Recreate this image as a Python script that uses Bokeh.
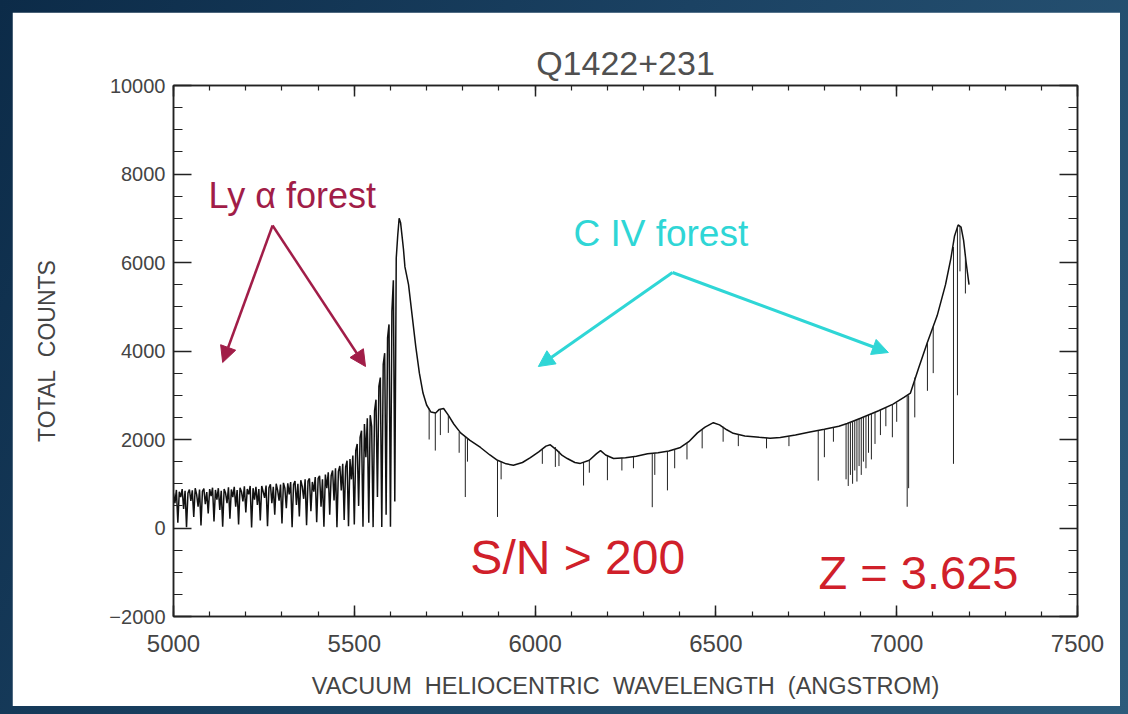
from bokeh.plotting import figure
from bokeh.layouts import column
from bokeh.models import (Range1d, LinearAxis, SingleIntervalTicker, Arrow,
                          NormalHead, Label, CustomJSTickFormatter)
from bokeh.embed import file_html
from bokeh.resources import INLINE

# Lyman-alpha forest blueward of the Ly-alpha emission peak, 4 A sampling
lya_wave = list(range(5000, 5640, 4))
lya_counts = [
    780, 560, 860, 120, 820, 700, 880, 430, 840, 20, 790, 870, 610, 850, 250, 900, 760, 480, 870, 60,
    830, 890, 540, 810, 330, 880, 720, 910, 150, 860, 640, 900, 410, 840, 30, 880, 790, 560, 920, 210,
    870, 700, 930, 480, 860, 80, 910, 820, 600, 940, 350, 880, 760, 950, 10, 900, 640, 930, 520, 880,
    170, 950, 820, 680, 960, 40, 910, 990, 560, 930, 300, 1000, 850, 620, 980, 100, 1020, 900, 450, 1010,
    760, 1040, 20, 980, 1060, 520, 1000, 260, 1080, 940, 660, 1100, 60, 1060, 1120, 380, 1040, 820, 1150, 130,
    1120, 1180, 480, 1100, 30, 1210, 900, 1260, 300, 1180, 1300, 620, 1350, 20, 1280, 1400, 850, 1450, 180,
    1380, 1520, 40, 1560, 1100, 1640,
    80, 1750, 1900, 500, 2050, 2200, 30, 2350, 1600, 2480, 120, 2550, 2300, 20, 2650,
    2900, 700, 3200, 3400, 20, 3700, 3950, 300, 4300, 4600, 30, 4900, 5600, 600, 6100, 6600, 7000, 6900,
    6600, 6300,
]

# Continuum redward of Ly-alpha, up to the C IV emission line
cont_wave = [5640, 5650, 5660, 5670, 5680, 5690, 5700, 5712, 5725, 5735, 5747, 5760, 5775, 5794,
             5820, 5849, 5875, 5896, 5920, 5940, 5965, 5987, 6010, 6030, 6042, 6060, 6075, 6089,
             6110, 6125, 6150, 6170, 6181, 6195, 6217, 6250, 6280, 6311, 6340, 6370, 6402,
             6425, 6449, 6470, 6493, 6510, 6530, 6548, 6580, 6620, 6650, 6678, 6720, 6760, 6800,
             6840, 6863, 6900, 6950, 6990, 7020, 7038, 7060, 7085, 7112, 7135, 7150, 7160, 7170,
             7178, 7185, 7192, 7200]
cont_counts = [5900, 5500, 4800, 4100, 3500, 3050, 2780, 2620, 2600, 2680, 2700, 2550, 2350, 2150,
               1980, 1820, 1650, 1530, 1450, 1420, 1480, 1590, 1720, 1850, 1880, 1760, 1640, 1570,
               1480, 1460, 1530, 1680, 1750, 1650, 1570, 1590, 1620, 1680, 1700, 1740, 1820,
               1950, 2150, 2280, 2380, 2330, 2220, 2140, 2080, 2050, 2030, 2045, 2100, 2170, 2230,
               2300, 2360, 2480, 2650, 2800, 2950, 3050, 3600, 4200, 4800, 5500, 6100, 6600, 6850,
               6800, 6500, 6000, 5500]

# Narrow metal absorption lines: wavelength, continuum level, line core
line_wave = [5707, 5724, 5738, 5760, 5790, 5807, 5813, 5896, 5906, 6020, 6056, 6066, 6134, 6150,
             6200, 6240, 6272, 6324, 6331, 6366, 6386, 6420, 6462, 6520, 6562, 6640, 6702, 6783,
             6800, 6825, 6860, 6866, 6872, 6878, 6884, 6890, 6896, 6902, 6908, 6915, 6922, 6930,
             6940, 6955, 6970, 6988, 7000, 7029, 7033, 7050, 7085, 7101, 7157, 7168, 7175, 7190]
line_top = [2700, 2600, 2690, 2550, 2170, 2060, 2030, 1530, 1500, 1790, 1830, 1740, 1470, 1530,
            1630, 1585, 1615, 1685, 1690, 1735, 1780, 1920, 2230, 2290, 2120, 2040, 2070, 2200,
            2230, 2270, 2350, 2370, 2390, 2410, 2430, 2450, 2470, 2490, 2510, 2530, 2560, 2590,
            2620, 2670, 2720, 2790, 2830, 2990, 3000, 3400, 4200, 4550, 6350, 6830, 6820, 6100]
line_bottom = [2000, 1750, 2100, 2150, 1700, 700, 1500, 250, 1100, 1450, 1380, 1400, 960, 1250,
               1080, 1300, 1350, 470, 1200, 850, 1350, 1550, 1800, 1950, 1850, 1800, 1850, 1070,
               1600, 1950, 1100, 950, 1200, 1000, 1300, 1050, 1400, 1200, 1500, 1350, 1700, 1550,
               1900, 2100, 2300, 2050, 2400, 480, 900, 2500, 3100, 3500, 1450, 3000, 5800, 5300]

# full spectrum as one continuous trace
spec_wave = lya_wave + cont_wave
spec_counts = lya_counts + cont_counts

FONT = "Liberation Sans"
GREY = "#444444"
NB = "\u00a0"

p = figure(width=1108, height=694, output_backend="svg", toolbar_location=None,
           x_range=Range1d(5000, 7500), y_range=Range1d(-2000, 10000),
           min_border_left=161, min_border_right=43, min_border_top=73, min_border_bottom=90,
           x_axis_location=None, y_axis_location=None)
p.border_fill_color = "white"
p.background_fill_color = "white"
p.outline_line_color = "#222222"
p.outline_line_width = 1.5
p.xgrid.visible = False
p.ygrid.visible = False

p.title.text = "Q1422+231"
p.title.align = "center"
p.title.text_font = FONT
p.title.text_font_size = "34px"
p.title.text_font_style = "normal"
p.title.text_color = "#505050"
p.title.standoff = 8

blank = CustomJSTickFormatter(code="return ''")


def style_axis(ax, tick_major, tick_minor):
    ax.axis_line_color = "#222222"
    ax.axis_line_width = 1.5
    ax.major_tick_line_color = "#222222"
    ax.minor_tick_line_color = "#222222"
    ax.major_tick_line_width = 1.5
    ax.minor_tick_line_width = 1.2
    ax.major_tick_in = tick_major
    ax.major_tick_out = 0
    ax.minor_tick_in = tick_minor
    ax.minor_tick_out = 0
    ax.major_label_text_font = FONT
    ax.major_label_text_color = GREY


xb = LinearAxis(ticker=SingleIntervalTicker(interval=500, num_minor_ticks=5),
                axis_label=f"VACUUM{NB}{NB}HELIOCENTRIC{NB}{NB}WAVELENGTH{NB}{NB}(ANGSTROM)")
style_axis(xb, 11, 5)
xb.major_label_text_font_size = "24px"
xb.major_label_standoff = 18
xb.axis_label_standoff = 18
xb.axis_label_text_font = FONT
xb.axis_label_text_font_size = "23.5px"
xb.axis_label_text_font_style = "normal"
xb.axis_label_text_color = GREY
p.add_layout(xb, "below")

xt = LinearAxis(ticker=SingleIntervalTicker(interval=500, num_minor_ticks=5), formatter=blank)
style_axis(xt, 11, 5)
xt.major_label_standoff = 0
p.add_layout(xt, "above")

yl = LinearAxis(ticker=SingleIntervalTicker(interval=2000, num_minor_ticks=4),
                axis_label=f"TOTAL{NB}{NB}COUNTS")
style_axis(yl, 18, 9)
yl.major_label_text_font_size = "20px"
yl.major_label_overrides = {-2000: "\u22122000"}
yl.major_label_standoff = 8
yl.axis_label_standoff = 46
yl.axis_label_text_font = FONT
yl.axis_label_text_font_size = "23px"
yl.axis_label_text_font_style = "normal"
yl.axis_label_text_color = GREY
p.add_layout(yl, "left")

yr = LinearAxis(ticker=SingleIntervalTicker(interval=2000, num_minor_ticks=4), formatter=blank)
style_axis(yr, 18, 9)
yr.major_label_standoff = 0
p.add_layout(yr, "right")

# spectrum and the narrow absorption lines
p.line(spec_wave, spec_counts, line_color="#111111", line_width=1.5)
p.segment(x0=line_wave, y0=line_top, x1=line_wave, y1=line_bottom,
          line_color="#222222", line_width=1)

# annotations
LYA = "#a11d48"
CIV = "#2fd6d6"
RED = "#d0202a"

p.add_layout(Label(x=5097, y=7514, text="Ly \u03b1 forest", text_font=FONT,
                   text_font_size="36px", text_color=LYA,
                   text_align="left", text_baseline="middle"))
for xe, ye in [(5136, 3740), (5531, 3650)]:
    p.add_layout(Arrow(x_start=5274, y_start=6836, x_end=xe, y_end=ye,
                       line_color=LYA, line_width=2.5,
                       end=NormalHead(size=16, fill_color=LYA, line_color=LYA)))

p.add_layout(Label(x=6106, y=6655, text="C IV forest", text_font=FONT,
                   text_font_size="37px", text_color=CIV,
                   text_align="left", text_baseline="middle"))
for xe, ye in [(6009, 3650), (6977, 3966)]:
    p.add_layout(Arrow(x_start=6380, y_start=5774, x_end=xe, y_end=ye,
                       line_color=CIV, line_width=3,
                       end=NormalHead(size=16, fill_color=CIV, line_color=CIV)))

p.add_layout(Label(x=5821, y=-667, text="S/N > 200", text_font=FONT,
                   text_font_size="48px", text_color=RED,
                   text_align="left", text_baseline="middle"))
p.add_layout(Label(x=6784, y=-1006, text="Z = 3.625", text_font=FONT,
                   text_font_size="47px", text_color=RED,
                   text_align="left", text_baseline="middle"))

page = column(p, styles={
    "padding": "12px 8px 8px 12px",
    "background": "linear-gradient(120deg, #0c2b48 0%, #1b4263 45%, #2d5b7b 100%)",
})

open("out.html", "w").write(file_html(page, INLINE))
